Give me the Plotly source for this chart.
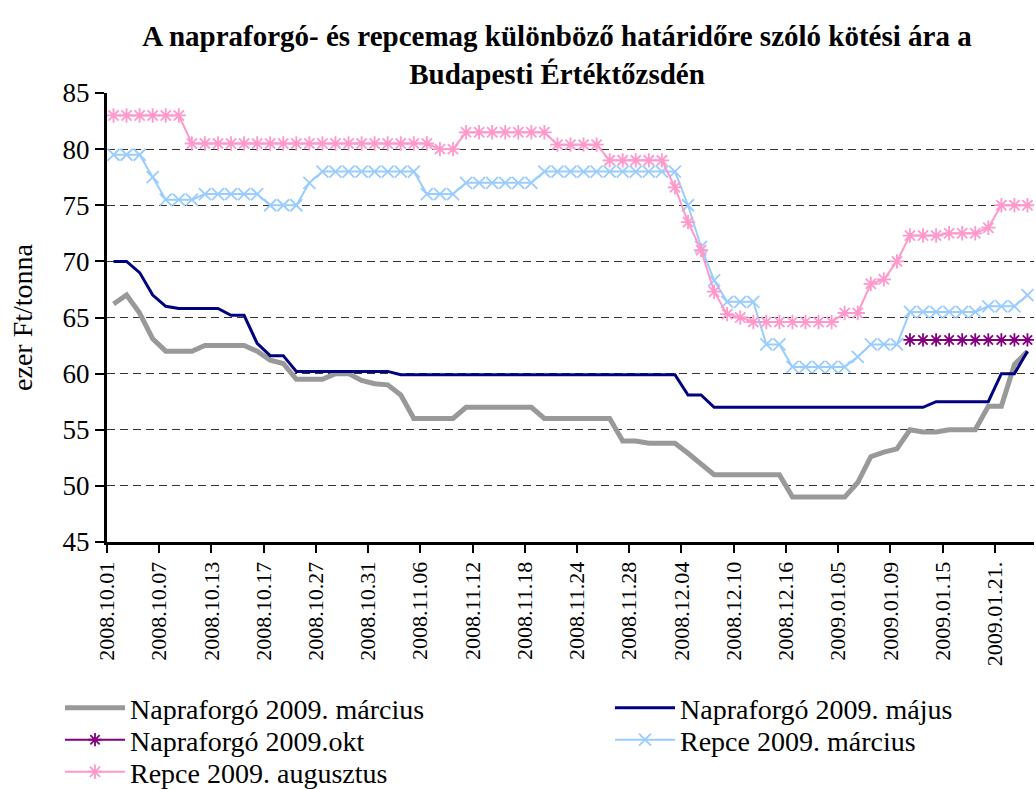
import plotly.graph_objects as go

dates = [
    "2008.10.01", "2008.10.02", "2008.10.03", "2008.10.06", "2008.10.07", "2008.10.08", "2008.10.09", "2008.10.10",
    "2008.10.13", "2008.10.14", "2008.10.15", "2008.10.16", "2008.10.17", "2008.10.20", "2008.10.21", "2008.10.22",
    "2008.10.27", "2008.10.28", "2008.10.29", "2008.10.30", "2008.10.31", "2008.11.03", "2008.11.04", "2008.11.05",
    "2008.11.06", "2008.11.07", "2008.11.10", "2008.11.11", "2008.11.12", "2008.11.13", "2008.11.14", "2008.11.17",
    "2008.11.18", "2008.11.19", "2008.11.20", "2008.11.21", "2008.11.24", "2008.11.25", "2008.11.26", "2008.11.27",
    "2008.11.28", "2008.12.01", "2008.12.02", "2008.12.03", "2008.12.04", "2008.12.05", "2008.12.08", "2008.12.09",
    "2008.12.10", "2008.12.11", "2008.12.12", "2008.12.15", "2008.12.16", "2008.12.17", "2008.12.18", "2008.12.19",
    "2009.01.05", "2009.01.06", "2009.01.07", "2009.01.08", "2009.01.09", "2009.01.12", "2009.01.13", "2009.01.14",
    "2009.01.15", "2009.01.16", "2009.01.19", "2009.01.20", "2009.01.21.", "2009.01.22", "2009.01.23",
]

napraforgo_marcius = [
    66.2, 67.0, 65.4, 63.1, 62.0, 62.0, 62.0, 62.5, 62.5, 62.5, 62.5, 62.0, 61.2, 60.9, 59.5, 59.5,
    59.5, 60.0, 60.0, 59.4, 59.1, 59.0, 58.1, 56.0, 56.0, 56.0, 56.0, 57.0, 57.0, 57.0, 57.0, 57.0,
    57.0, 56.0, 56.0, 56.0, 56.0, 56.0, 56.0, 54.0, 54.0, 53.8, 53.8, 53.8, 52.9, 52.0, 51.0, 51.0,
    51.0, 51.0, 51.0, 51.0, 49.0, 49.0, 49.0, 49.0, 49.0, 50.3, 52.6, 53.0, 53.3, 55.0, 54.8, 54.8,
    55.0, 55.0, 55.0, 57.1, 57.1, 60.8, 62.0,
]

napraforgo_majus = [
    70.0, 70.0, 69.0, 67.0, 66.0, 65.8, 65.8, 65.8, 65.8, 65.2, 65.2, 62.7, 61.6, 61.6, 60.2, 60.2,
    60.2, 60.2, 60.2, 60.2, 60.2, 60.2, 59.9, 59.9, 59.9, 59.9, 59.9, 59.9, 59.9, 59.9, 59.9, 59.9,
    59.9, 59.9, 59.9, 59.9, 59.9, 59.9, 59.9, 59.9, 59.9, 59.9, 59.9, 59.9, 58.1, 58.1, 57.0, 57.0,
    57.0, 57.0, 57.0, 57.0, 57.0, 57.0, 57.0, 57.0, 57.0, 57.0, 57.0, 57.0, 57.0, 57.0, 57.0, 57.5,
    57.5, 57.5, 57.5, 57.5, 60.0, 60.0, 62.0,
]

napraforgo_okt = [None] * 61 + [63.0, 63.0, 63.0, 63.0, 63.0, 63.0, 63.0, 63.0, 63.0, 63.0]

repce_marcius = [
    79.5, 79.5, 79.5, 77.5, 75.5, 75.5, 75.5, 76.0, 76.0, 76.0, 76.0, 76.0, 75.0, 75.0, 75.0, 77.0,
    78.0, 78.0, 78.0, 78.0, 78.0, 78.0, 78.0, 78.0, 76.0, 76.0, 76.0, 77.0, 77.0, 77.0, 77.0, 77.0,
    77.0, 78.0, 78.0, 78.0, 78.0, 78.0, 78.0, 78.0, 78.0, 78.0, 78.0, 78.0, 75.0, 71.3, 68.3, 66.4,
    66.4, 66.4, 62.6, 62.6, 60.6, 60.6, 60.6, 60.6, 60.6, 61.5, 62.6, 62.6, 62.6, 65.5, 65.5, 65.5,
    65.5, 65.5, 65.5, 66.0, 66.0, 66.0, 67.0,
]

repce_augusztus = [
    83.0, 83.0, 83.0, 83.0, 83.0, 83.0, 80.5, 80.5, 80.5, 80.5, 80.5, 80.5, 80.5, 80.5, 80.5, 80.5,
    80.5, 80.5, 80.5, 80.5, 80.5, 80.5, 80.5, 80.5, 80.5, 80.0, 80.0, 81.5, 81.5, 81.5, 81.5, 81.5,
    81.5, 81.5, 80.4, 80.4, 80.4, 80.4, 79.0, 79.0, 79.0, 79.0, 79.0, 76.6, 73.5, 71.0, 67.3, 65.3,
    65.0, 64.6, 64.6, 64.6, 64.6, 64.6, 64.6, 64.6, 65.4, 65.4, 68.0, 68.4, 70.0, 72.3, 72.3, 72.3,
    72.5, 72.5, 72.5, 73.0, 75.0, 75.0, 75.0,
]

series_names = [
    "Napraforgó 2009. március",
    "Napraforgó 2009. május",
    "Napraforgó 2009.okt",
    "Repce 2009. március",
    "Repce 2009. augusztus",
]

y_ticks = [45, 50, 55, 60, 65, 70, 75, 80, 85]

FONT = "Liberation Serif"
x = list(range(len(dates)))
tick_idx = list(range(0, len(dates), 4))

fig = go.Figure()
fig.add_trace(go.Scatter(x=x, y=napraforgo_marcius, name=series_names[0], mode="lines",
                         line=dict(color="#999999", width=5), legend="legend"))
fig.add_trace(go.Scatter(x=x, y=napraforgo_majus, name=series_names[1], mode="lines",
                         line=dict(color="#000080", width=3), legend="legend2"))
fig.add_trace(go.Scatter(x=x, y=napraforgo_okt, name=series_names[2], mode="lines+markers",
                         line=dict(color="#800080", width=2), legend="legend3",
                         marker=dict(symbol="asterisk-open", size=11, line=dict(color="#800080", width=1.8))))
fig.add_trace(go.Scatter(x=x, y=repce_marcius, name=series_names[3], mode="lines+markers",
                         line=dict(color="#99CCFF", width=2), legend="legend4",
                         marker=dict(symbol="x-thin-open", size=12, line=dict(color="#99CCFF", width=1.8))))
fig.add_trace(go.Scatter(x=x, y=repce_augusztus, name=series_names[4], mode="lines+markers",
                         line=dict(color="#FF99CC", width=2), legend="legend5",
                         marker=dict(symbol="asterisk-open", size=12, line=dict(color="#FF99CC", width=1.8))))


def leg(xpx, ypx):
    return dict(orientation="h", xref="container", yref="container",
                x=xpx / 1036, xanchor="left", y=1 - ypx / 789, yanchor="middle",
                itemwidth=60, font=dict(family=FONT, size=28, color="black"),
                bgcolor="rgba(0,0,0,0)", borderwidth=0)


fig.update_layout(
    width=1036, height=789,
    margin=dict(l=107, r=2, t=93, b=247, autoexpand=False),
    paper_bgcolor="white", plot_bgcolor="white",
    font=dict(family=FONT, color="black", size=24),
    title=dict(text="<b>A napraforgó- és repcemag különböző határidőre szóló kötési ára a<br>Budapesti Értéktőzsdén</b>",
               x=557 / 1036, xanchor="center", xref="container",
               y=1 - 46 / 789, yanchor="middle", yref="container",
               font=dict(family=FONT, size=29, color="black")),
    showlegend=True,
    legend=leg(60, 708),
    legend2=leg(610, 708),
    legend3=leg(60, 740),
    legend4=leg(610, 740),
    legend5=leg(60, 772),
)

fig.update_xaxes(
    range=[-0.5, len(dates) - 0.5],
    tickmode="array",
    tickvals=[i - 0.5 for i in tick_idx],
    ticktext=[dates[i] for i in tick_idx],
    tickangle=-90,
    ticks="outside", ticklen=8, tickwidth=2, tickcolor="black",
    showline=True, linecolor="black", linewidth=3,
    showgrid=False, zeroline=False,
    tickfont=dict(family=FONT, size=22, color="black"),
)

fig.update_yaxes(
    range=[45, 85],
    tickmode="array", tickvals=y_ticks,
    ticks="outside", ticklen=9, tickwidth=2, tickcolor="black",
    showline=True, linecolor="black", linewidth=3,
    showgrid=True, gridcolor="#333333", gridwidth=1.3, griddash="8px,5px",
    zeroline=False,
    tickfont=dict(family=FONT, size=27, color="black"),
    title=dict(text="ezer Ft/tonna", font=dict(family=FONT, size=28, color="black"), standoff=22),
)

fig.write_html("out.html", config={"displayModeBar": False},
               post_script="document.body.style.margin='0';")
